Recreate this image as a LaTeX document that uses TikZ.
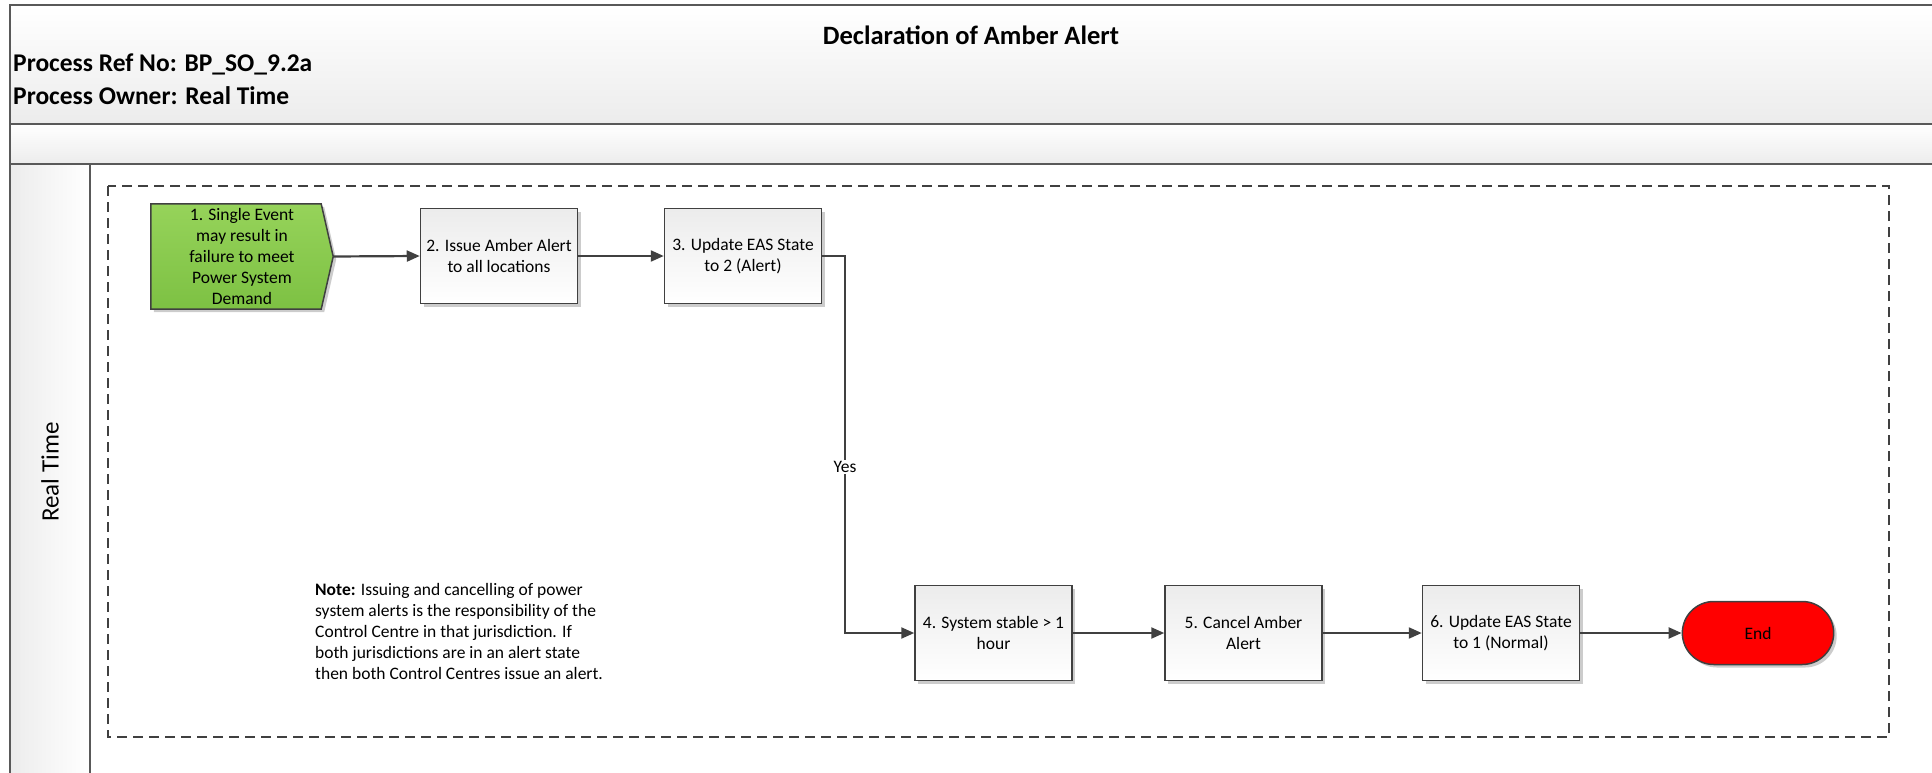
\documentclass[tikz,border=0pt]{standalone}
\usepackage{fontspec}
\setmainfont{Carlito}
\usetikzlibrary{arrows.meta,shapes.misc,shadows,calc,backgrounds}

\definecolor{linegray}{HTML}{404040}
\definecolor{framegray}{HTML}{595959}
\definecolor{bandgray}{HTML}{ECECEC}
\definecolor{boxtop}{HTML}{ECECEC}
\definecolor{greentop}{HTML}{96D35A}
\definecolor{greenbot}{HTML}{7DC143}
\definecolor{endred}{HTML}{FF0000}

\begin{document}
\begin{tikzpicture}[x=1pt,y=-1pt,
  softshadow/.style={drop shadow={shadow xshift=3pt,shadow yshift=-3pt,fill=black,opacity=0.2}},
  boxfont/.style={font=\fontsize{17.5}{21}\selectfont},
  stepbox/.style={boxfont,draw=linegray,line width=1.5pt,top color=boxtop,bottom color=white,
    minimum width=157pt,minimum height=95pt,align=center,inner sep=2pt,softshadow},
  endbox/.style={boxfont,rounded rectangle,draw=linegray,line width=1.5pt,fill=endred,
    minimum width=158pt,minimum height=63pt,softshadow},
  flow/.style={draw=linegray,line width=2.2pt,-{Triangle[length=13pt,width=11pt]}},
  frame/.style={draw=framegray,line width=2pt},
  headfont/.style={font=\fontsize{25.5}{30}\selectfont\bfseries},
]
\useasboundingbox (0,0) rectangle (1932,773);

% pool header, band and lane label column
\shade[top color=white,bottom color=bandgray] (10,5) rectangle (1932,124);
\shade[top color=white,bottom color=bandgray] (10,124) rectangle (1932,164);
\shade[left color=bandgray,right color=white] (10,164) rectangle (90,773);
\draw[frame] (10,773) -- (10,5) -- (1932,5);
\draw[frame] (10,124) -- (1932,124);
\draw[frame] (10,164) -- (1932,164);
\draw[frame] (90,164) -- (90,773);

\node[font=\fontsize{26.5}{30}\selectfont\bfseries] (title) at (971,35) {Declaration of Amber Alert};
\node[headfont,anchor=west,inner sep=0pt] (ref) at (13,64) {Process Ref No: BP\_SO\_9.2a};
\node[headfont,anchor=west,inner sep=0pt] (owner) at (13,96) {Process Owner: Real Time};
\node[font=\fontsize{25}{30}\selectfont,rotate=90] (lane) at (50,472) {Real Time};

% dashed group boundary
\draw[linegray,line width=1.5pt,dash pattern=on 10pt off 6pt] (108,186) rectangle (1889,737);

% process steps
\node[boxfont,align=center,minimum width=182pt,minimum height=105pt,inner sep=0pt] (n1) at (242,256.5)
  {1. Single Event\\may result in\\failure to meet\\Power System\\Demand};
\begin{pgfonlayer}{background}
  \path[draw=linegray,line width=1.5pt,top color=greentop,bottom color=greenbot,softshadow]
    (n1.north west) -- ($(n1.north east)+(-12,0)$) -- (n1.east)
    -- ($(n1.south east)+(-12,0)$) -- (n1.south west) -- cycle;
\end{pgfonlayer}

\node[stepbox] (n2) at (499,256) {2. Issue Amber Alert\\to all locations};
\node[stepbox] (n3) at (743,256) {3. Update EAS State\\to 2 (Alert)};
\node[stepbox] (n4) at (993.5,633) {4. System stable > 1\\hour};
\node[stepbox] (n5) at (1243.5,633) {5. Cancel Amber\\Alert};
\node[stepbox] (n6) at (1501,633) {6. Update EAS State\\to 1 (Normal)};
\node[endbox] (end) at (1758,633) {End};

\coordinate (j3) at (845,256);

\draw[flow] (n1.east) -- (n2.west);
\draw[flow] (n2.east) -- (n3.west);
\draw[flow] (n3.east) -- (j3) |- node[pos=0.28,boxfont,fill=white,inner sep=1.5pt] (yes) {Yes} (n4.west);
\draw[flow] (n4.east) -- (n5.west);
\draw[flow] (n5.east) -- (n6.west);
\draw[flow] (n6.east) -- (end.west);

% explanatory note
\node[boxfont,anchor=west,align=left,inner sep=0pt] (note) at (315,631)
  {\textbf{Note:} Issuing and cancelling of power\\
   system alerts is the responsibility of the\\
   Control Centre in that jurisdiction. If\\
   both jurisdictions are in an alert state\\
   then both Control Centres issue an alert.};
\end{tikzpicture}
\end{document}
